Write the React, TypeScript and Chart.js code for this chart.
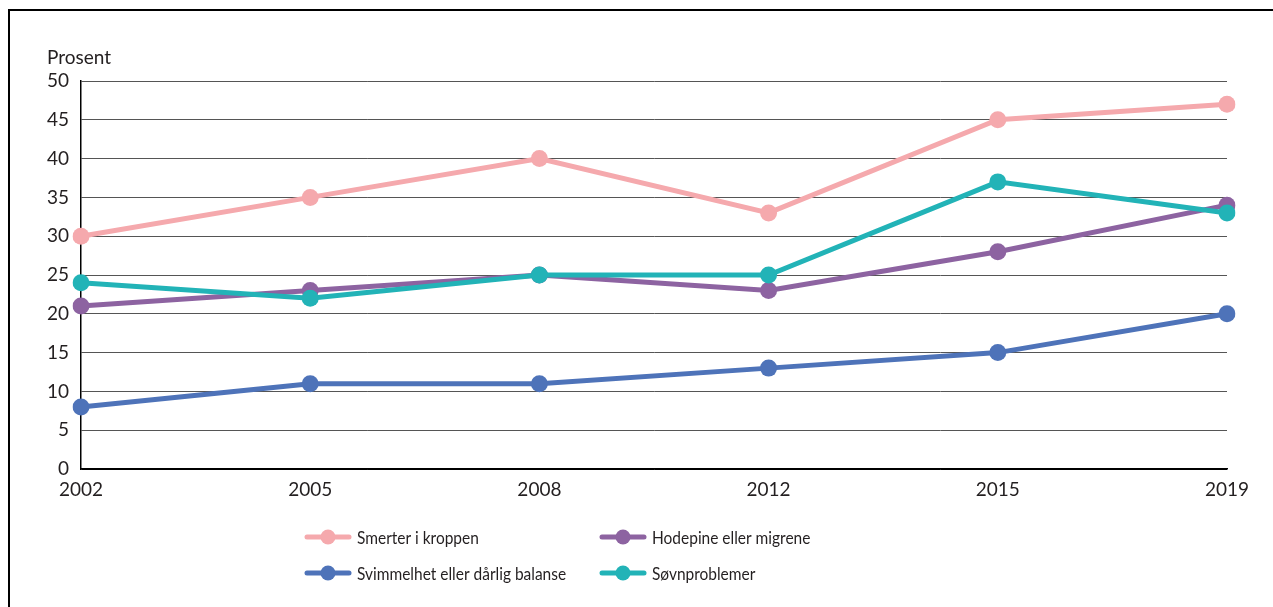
import React, { useEffect, useRef } from "react";
import { Chart, registerables } from "chart.js";

Chart.register(...registerables);

const years = ["2002", "2005", "2008", "2012", "2015", "2019"];
const smerter = [30, 35, 40, 33, 45, 47];
const hodepine = [21, 23, 25, 23, 28, 34];
const svimmelhet = [8, 11, 11, 13, 15, 20];
const sovn = [24, 22, 25, 25, 37, 33];
const yTicks = [0, 5, 10, 15, 20, 25, 30, 35, 40, 45, 50];
const yTitle = "Prosent";

const seriesNames = [
  "Smerter i kroppen",
  "Hodepine eller migrene",
  "Svimmelhet eller dårlig balanse",
  "Søvnproblemer",
];
const colors = ["#F5A9AD", "#8D63A1", "#4E73B9", "#22B3B7"];

const FONT = "Lato";
const TEXT = "#231F20";

const overlay = {
  id: "overlay",
  afterDraw(chart: any) {
    const ctx = chart.ctx;
    ctx.save();
    ctx.fillStyle = TEXT;
    ctx.font = `19px ${FONT}`;
    ctx.textAlign = "left";
    ctx.textBaseline = "alphabetic";
    ctx.fillText(yTitle, 37, 53);

    // legend
    const cols = [297, 592];
    const rows = [526, 562];
    const layout = [
      [0, 0, 0],
      [1, 1, 0],
      [2, 0, 1],
      [3, 1, 1],
    ];
    ctx.font = `18px ${FONT}`;
    ctx.textBaseline = "middle";
    layout.forEach(([i, c, r]) => {
      const x = cols[c];
      const y = rows[r];
      ctx.strokeStyle = colors[i];
      ctx.lineWidth = 5;
      ctx.lineCap = "round";
      ctx.beginPath();
      ctx.moveTo(x, y);
      ctx.lineTo(x + 42, y);
      ctx.stroke();
      ctx.fillStyle = colors[i];
      ctx.beginPath();
      ctx.arc(x + 21, y, 7.5, 0, Math.PI * 2);
      ctx.fill();
      ctx.fillStyle = TEXT;
      ctx.save();
      ctx.translate(x + 50, y + 1);
      ctx.scale(0.86, 1);
      ctx.fillText(seriesNames[i], 0, 0);
      ctx.restore();
    });
    ctx.restore();
  },
};

export default function App() {
  const ref = useRef<HTMLCanvasElement>(null);
  useEffect(() => {
    if (!ref.current) return;
    const mk = (label: string, data: number[], color: string, order: number) => ({
      label,
      data,
      borderColor: color,
      backgroundColor: color,
      borderWidth: 5,
      pointRadius: 8.5,
      pointBorderWidth: 0,
      pointBackgroundColor: color,
      tension: 0,
      order,
    });
    const chart = new Chart(ref.current, {
      type: "line",
      data: {
        labels: years,
        datasets: [
          mk(seriesNames[0], smerter, colors[0], 3),
          mk(seriesNames[1], hodepine, colors[1], 1),
          mk(seriesNames[2], svimmelhet, colors[2], 2),
          mk(seriesNames[3], sovn, colors[3], 0),
        ],
      },
      options: {
        animation: false,
        responsive: false,
        maintainAspectRatio: false,
        layout: { padding: { top: 70, right: 46, left: 0, bottom: 0 } },
        plugins: { legend: { display: false }, tooltip: { enabled: false } },
        scales: {
          x: {
            type: "category",
            offset: false,
            grid: { display: false, drawTicks: false },
            border: { color: "#000", width: 1.5 },
            ticks: {
              color: TEXT,
              font: { family: FONT, size: 19 },
              padding: 9,
              maxRotation: 0,
              autoSkip: false,
            },
            afterFit: (s: any) => {
              s.height = 138;
            },
          },
          y: {
            min: 0,
            max: 50,
            afterBuildTicks: (s: any) => {
              s.ticks = yTicks.map((v) => ({ value: v }));
            },
            grid: {
              drawTicks: false,
              color: (c: any) => (c.tick && c.tick.value === 0 ? "#000" : "#555"),
              lineWidth: 1,
            },
            border: { color: "#000", width: 1.5 },
            ticks: {
              color: TEXT,
              font: { family: FONT, size: 19 },
              padding: 12,
            },
            afterFit: (s: any) => {
              s.width = 71;
            },
          },
        },
      },
      plugins: [overlay],
    });
    return () => chart.destroy();
  }, []);
  return (
    <div
      style={{
        position: "absolute",
        left: 8,
        top: 9,
        width: 1265,
        height: 598,
        boxSizing: "border-box",
        borderTop: "2px solid #000",
        borderLeft: "2px solid #000",
        background: "#fff",
      }}
    >
      <canvas ref={ref} width={1263} height={596} style={{ display: "block" }} />
    </div>
  );
}
